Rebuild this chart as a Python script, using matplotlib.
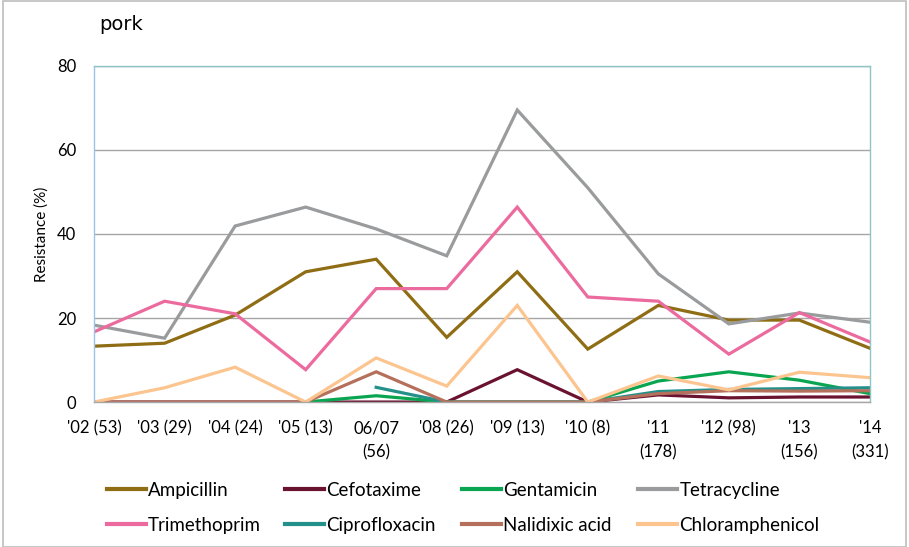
import numpy as np
import matplotlib
matplotlib.use('Agg')
import matplotlib.pyplot as plt

plt.rcParams['font.family'] = ['Lato', 'DejaVu Sans']

# x categories (year and number of isolates)
years = ["'02 (53)", "'03 (29)", "'04 (24)", "'05 (13)", "06/07\n(56)", "'08 (26)",
         "'09 (13)", "'10 (8)", "'11\n(178)", "'12 (98)", "'13\n(156)", "'14\n(331)"]

nan = np.nan
ampicillin = [13.3, 14.0, 20.7, 31.0, 34.0, 15.4, 31.0, 12.6, 23.0, 19.5, 19.5, 12.8]
cefotaxime = [0, 0, 0, 0, 0, 0, 7.7, 0, 1.7, 1.0, 1.2, 1.2]
gentamicin = [nan, nan, nan, 0, 1.5, 0, 0, 0, 5.0, 7.2, 5.2, 2.0]
tetracycline = [18.3, 15.2, 41.9, 46.4, 41.2, 34.8, 69.5, 51.0, 30.5, 18.6, 21.2, 19.0]
trimethoprim = [16.7, 24.0, 21.0, 7.7, 27.0, 27.0, 46.4, 25.0, 24.0, 11.4, 21.3, 14.3]
ciprofloxacin = [nan, nan, nan, nan, 3.5, 0, 0, 0, 2.5, 3.0, 3.2, 3.4]
nalidixic = [0, 0, 0, 0, 7.2, 0, 0, 0, 2.0, 2.7, 2.6, 2.7]
chloramphenicol = [0, 3.4, 8.3, 0, 10.5, 3.8, 23.0, 0, 6.2, 2.9, 7.1, 5.8]

series = [
    ("Ampicillin", ampicillin, "#8f6d14"),
    ("Cefotaxime", cefotaxime, "#6a1330"),
    ("Gentamicin", gentamicin, "#0aa550"),
    ("Tetracycline", tetracycline, "#999b9d"),
    ("Trimethoprim", trimethoprim, "#ec6b9e"),
    ("Ciprofloxacin", ciprofloxacin, "#24908a"),
    ("Nalidixic acid", nalidixic, "#b5705c"),
    ("Chloramphenicol", chloramphenicol, "#fcc58f"),
]

fig = plt.figure(figsize=(9.09, 5.47), dpi=100)
# outer chart border
fig.patches.append(plt.Rectangle((0.003, 0.0), 0.994, 0.998, transform=fig.transFigure,
                                 fill=False, edgecolor='#bdbdbd', linewidth=1.2))
ax = fig.add_axes([0.1035, 0.265, 0.8535, 0.6145])

x = np.arange(len(years))
lines = []
for name, vals, col in series:
    ln, = ax.plot(x, vals, color=col, linewidth=2.3, label=name, solid_joinstyle='miter')
    lines.append(ln)

ax.set_xlim(0, len(years) - 1)
ax.set_ylim(0, 80)
ax.set_yticks([0, 20, 40, 60, 80])
ax.set_xticks(x)
ax.set_xticklabels(years, fontsize=12, linespacing=1.6, va='top')
ax.tick_params(axis='both', length=0, labelsize=12)
ax.tick_params(axis='x', pad=13)
ax.tick_params(axis='y', pad=13)
ax.grid(axis='y', color='#a6a6a6', linewidth=1)
ax.set_axisbelow(True)

ax.spines['left'].set_color('#9dc3e6')
ax.spines['top'].set_color('#8cc6c6')
ax.spines['right'].set_color('#8cc6c6')
ax.spines['bottom'].set_color('#a6a6a6')
for s in ax.spines.values():
    s.set_linewidth(1)

ax.set_ylabel("Resistance (%)", fontsize=11, labelpad=6)
fig.text(0.109, 0.955, "pork", fontsize=14, family='DejaVu Sans', va='center')

# legend: 4 equal-width columns, 2 rows (row-wise order)
col_x = [0.1177, 0.3135, 0.5083, 0.7019]
for i in range(4):
    leg = fig.legend([lines[i], lines[i + 4]], [series[i][0], series[i + 4][0]],
                     loc='upper left', bbox_to_anchor=(col_x[i], 0.119), frameon=False,
                     fontsize=13.5, handlelength=2.1, handletextpad=0.1,
                     labelspacing=0.95, borderaxespad=0, borderpad=0)
    for h in leg.get_lines():
        h.set_linewidth(3)

fig.savefig("out.png", dpi=100)
